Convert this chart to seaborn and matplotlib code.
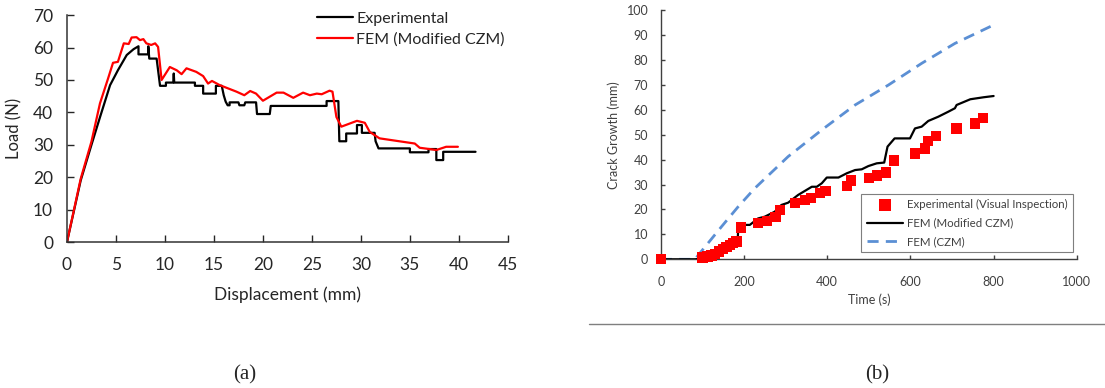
import matplotlib
matplotlib.use('Agg')
import matplotlib.pyplot as plt
from matplotlib.lines import Line2D
import seaborn as sns
import pandas as pd

# ---- (a) load vs displacement ----
exp_disp = [0, 1.4, 2.5, 3.4, 4.4, 5.2, 6.1, 6.8, 7.3, 7.3, 8.3, 8.3, 8.4, 9.15, 9.5, 10.1,
            10.1, 10.85, 10.9, 10.95, 13.06, 13.06, 13.9, 13.9, 15.2, 15.2, 15.8, 16.0, 16.2,
            16.4, 16.6, 16.6, 17.5, 17.6, 18.1, 18.2, 19.3, 19.4, 20.7, 20.8, 26.5, 26.5,
            27.7, 27.8, 28.5, 28.5, 29.6, 29.6, 30.1, 30.1, 31.4, 31.5, 31.8, 35.0, 35.0,
            36.9, 36.9, 37.7, 37.7, 38.4, 38.4, 41.7]
exp_load = [0, 19, 30, 38.8, 48.4, 53, 57.7, 59.5, 60.4, 57.9, 57.9, 60.4, 56.6, 56.6, 48.2, 48.2,
            49.2, 49.2, 52, 49.2, 49.2, 48.2, 48.2, 45.8, 45.8, 48.2, 48.2, 45.3, 43.3,
            42.2, 42.2, 43.1, 43.1, 42.2, 42.2, 43.1, 43.1, 39.5, 39.5, 42.0, 42.0, 43.5,
            43.5, 31.1, 31.1, 33.5, 33.5, 36.1, 36.1, 33.7, 33.7, 31.1, 28.9, 28.9, 27.7,
            27.7, 28.7, 28.7, 25.3, 25.3, 27.85, 27.85]

fem_disp = [0, 1.4, 2.5, 3.37, 4.2, 4.7, 5.2, 5.8, 6.3, 6.6, 7.1, 7.45, 7.8, 8.1, 8.6, 9.0, 9.3,
            9.66, 10.5, 11.2, 11.7, 12.2, 13.2, 13.9, 14.4, 14.8, 15.6, 17.3, 18.1, 18.7,
            19.3, 20.0, 21.4, 22.1, 23.1, 24.1, 24.8, 25.5, 26.0, 26.8, 27.1, 27.5, 28.0,
            29.6, 30.4, 30.9, 31.9, 35.5, 36.0, 37.0, 37.7, 38.7, 39.9]
fem_load = [0, 19.5, 31, 42.8, 50.5, 55.3, 55.6, 61.3, 61.1, 63.1, 63.2, 62.3, 62.6, 61.3, 60.8,
            61.3, 60.2, 50, 54, 53, 51.8, 53.6, 52.5, 51.2, 48.9, 49.7, 48.4, 46.4, 45.3, 46.6,
            45.8, 43.6, 46.1, 46.1, 44.5, 46.1, 45.3, 45.8, 45.6, 46.7, 46.4, 38.6, 35.6,
            37.4, 36.8, 34.0, 32.0, 30.4, 29.1, 28.7, 28.4, 29.4, 29.4]

# ---- (b) crack growth vs time ----
vis_time = [0, 100, 112, 122, 130, 140, 150, 158, 166, 174, 182, 192, 233, 256, 276, 286, 322,
            347, 361, 383, 396, 447, 457, 501, 519, 541, 561, 611, 635, 642, 661, 711, 756, 774]
vis_crack = [0, 0.7, 1.1, 1.5, 2.1, 3.1, 4.0, 4.8, 5.7, 6.4, 7.1, 12.7, 14.7, 15.5, 17.1, 19.8,
             22.5, 23.8, 24.7, 26.5, 27.5, 29.5, 31.6, 32.5, 33.6, 34.8, 39.6, 42.5, 44.5,
             47.5, 49.6, 52.5, 54.5, 56.6]

mod_time = [0, 82, 100, 130, 158, 182, 185, 186, 192, 214, 234, 250, 274, 290, 306, 330, 363,
            375, 387, 399, 427, 447, 467, 483, 499, 519, 537, 545, 562, 599, 611, 627, 643,
            667, 691, 707, 711, 744, 776, 800]
mod_crack = [0, 0, 0.3, 1.7, 4.4, 7.8, 8.4, 11.8, 13.8, 13.8, 16.4, 17.1, 19.1, 21.8, 22.7,
             25.8, 29.1, 29.1, 30.5, 32.8, 32.8, 34.5, 35.8, 36.1, 37.4, 38.5, 38.8, 45.2,
             48.5, 48.5, 52.5, 53.2, 55.5, 57.2, 59.2, 60.6, 61.9, 64.2, 65.0, 65.5]

czm_time = [0, 82, 100, 146, 186, 226, 306, 387, 467, 547, 627, 707, 800]
czm_crack = [0, 0, 3.7, 13.1, 21.1, 28.5, 41.2, 51.9, 61.9, 69.9, 78.6, 86.6, 94.0]

sns.set_style('ticks')
plt.rcParams['font.family'] = ['Lato', 'DejaVu Sans']

fig = plt.figure(figsize=(11.05, 3.88), dpi=100)
ax1 = fig.add_axes([0.0606, 0.376, 0.399, 0.585])
ax2 = fig.add_axes([0.598, 0.3317, 0.3765, 0.6425])

TXT = '#262626'

df_exp = pd.DataFrame({'disp': exp_disp, 'load': exp_load})
df_fem = pd.DataFrame({'disp': fem_disp, 'load': fem_load})
sns.lineplot(data=df_exp, x='disp', y='load', sort=False, estimator=None, color='black',
             lw=1.6, ax=ax1, label='Experimental')
sns.lineplot(data=df_fem, x='disp', y='load', sort=False, estimator=None, color='#ff0000',
             lw=1.6, ax=ax1, label='FEM (Modified CZM)')
ax1.set_xlim(0, 45)
ax1.set_ylim(0, 70)
ax1.set_xticks(range(0, 46, 5))
ax1.set_yticks(range(0, 71, 10))
ax1.tick_params(direction='in', length=5, width=1, colors=TXT, labelsize=12.5)
ax1.tick_params(axis='x', pad=11)
ax1.tick_params(axis='y', pad=10)
for s in ['left', 'bottom']:
    ax1.spines[s].set_color('#333333')
    ax1.spines[s].set_linewidth(1.1)
sns.despine(ax=ax1)
ax1.set_xlabel('Displacement (mm)', fontsize=12.5, color=TXT)
ax1.set_ylabel('Load (N)', fontsize=12, color=TXT)
ax1.xaxis.set_label_coords(0.5, -0.195)
ax1.yaxis.set_label_coords(-0.1, 0.5)
ax1.legend(loc='upper left', bbox_to_anchor=(0.548, 1.05), frameon=False, fontsize=11.5,
           handlelength=2.3, handletextpad=0.2, borderpad=0, labelspacing=0.4,
           labelcolor=TXT)

df_vis = pd.DataFrame({'time': vis_time, 'crack': vis_crack})
df_mod = pd.DataFrame({'time': mod_time, 'crack': mod_crack})
df_czm = pd.DataFrame({'time': czm_time, 'crack': czm_crack})
sns.lineplot(data=df_czm, x='time', y='crack', sort=False, estimator=None, color='#5b8fd4',
             lw=2, linestyle=(0, (4, 2.6)), ax=ax2, label='FEM (CZM)', zorder=2)
sns.lineplot(data=df_mod, x='time', y='crack', sort=False, estimator=None, color='black',
             lw=1.6, ax=ax2, label='FEM (Modified CZM)', zorder=3)
sns.scatterplot(data=df_vis, x='time', y='crack', marker='s', s=55, color='#ff0000',
                edgecolor='none', ax=ax2, label='Experimental (Visual Inspection)', zorder=4,
                clip_on=False)
ax2.set_xlim(0, 1000)
ax2.set_ylim(0, 100)
ax2.set_xticks(range(0, 1001, 200))
ax2.set_yticks(range(0, 101, 10))
ax2.tick_params(direction='in', length=3, width=1, colors='#404040', labelsize=9)
ax2.tick_params(axis='x', pad=12)
ax2.tick_params(axis='y', pad=9)
for s in ['left', 'bottom']:
    ax2.spines[s].set_color('#404040')
    ax2.spines[s].set_linewidth(1)
sns.despine(ax=ax2)
ax2.set_xlabel('Time (s)', fontsize=9, color='#404040')
ax2.set_ylabel('Crack Growth (mm)', fontsize=9, color='#404040')
ax2.xaxis.set_label_coords(0.502, -0.135)
ax2.yaxis.set_label_coords(-0.099, 0.5)

h, l = ax2.get_legend_handles_labels()
order = [2, 1, 0]
leg = ax2.legend([h[i] for i in order], [l[i] for i in order], loc='lower right',
                 bbox_to_anchor=(0.99, 0.028), fontsize=8.3, fancybox=False,
                 edgecolor='#7f7f7f', framealpha=1, handlelength=3.2, handletextpad=0.3,
                 borderpad=0.45, labelspacing=0.65, labelcolor='#404040', borderaxespad=0,
                 markerscale=1.1)
leg.get_frame().set_linewidth(0.8)

fig.add_artist(Line2D([589 / 1105, 1.0], [1 - 324 / 388] * 2, color='#7f7f7f', lw=1))
fig.text(245 / 1105, 1 - 375 / 388, '(a)', family='Liberation Serif', fontsize=15,
         ha='center', va='center')
fig.text(877 / 1105, 1 - 375 / 388, '(b)', family='Liberation Serif', fontsize=15,
         ha='center', va='center')

fig.savefig('out.png', dpi=100)
